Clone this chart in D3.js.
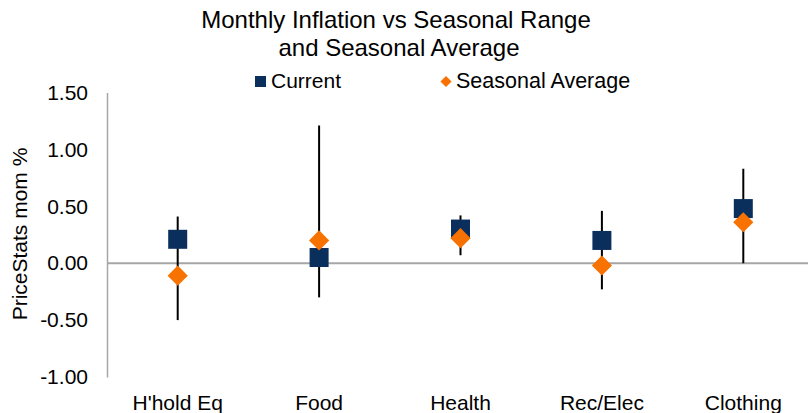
<!DOCTYPE html>
<html>
<head>
<meta charset="utf-8">
<script src="https://cdn.jsdelivr.net/npm/d3@7"></script>
<style>
  body { margin: 0; background: #fff; }
  svg { display: block; font-family: "Liberation Sans", Arial, sans-serif; }
</style>
</head>
<body>
<svg id="chart" width="808" height="413"></svg>
<script>
const categories = ["H'hold Eq", "Food", "Health", "Rec/Elec", "Clothing"];
const rangeHigh = [0.41, 1.21, 0.42, 0.46, 0.83];
const rangeLow = [-0.50, -0.30, 0.07, -0.23, 0.00];
const current = [0.21, 0.05, 0.30, 0.20, 0.48];
const seasonalAvg = [-0.11, 0.20, 0.22, -0.02, 0.36];
const yTicks = [1.5, 1.0, 0.5, 0.0, -0.5, -1.0];

const NAVY = '#0b2f5c';
const ORANGE = '#f77200';
const AXIS_GREY = '#a6a6a6';

const svg = d3.select('#chart');

const x = d3.scaleBand()
    .domain(categories)
    .range([107, 814]);

const y = d3.scaleLinear()
    .domain([-1, 1.5])
    .range([377, 92.5]);

// plain hyphen for negatives, like the source chart
const fmt = d3.formatLocale({decimal: '.', thousands: ',', grouping: [3], currency: ['', ''], minus: '-'}).format('.2f');

// title
svg.append('text')
    .attr('x', 396).attr('y', 28)
    .attr('text-anchor', 'middle')
    .attr('font-size', 24)
    .text('Monthly Inflation vs Seasonal Range');
svg.append('text')
    .attr('x', 399).attr('y', 56)
    .attr('text-anchor', 'middle')
    .attr('font-size', 24)
    .text('and Seasonal Average');

// legend
const legend = svg.append('g');
legend.append('rect')
    .attr('x', 255).attr('y', 76).attr('width', 11).attr('height', 11)
    .attr('fill', NAVY);
legend.append('text')
    .attr('x', 271).attr('y', 88)
    .attr('font-size', 21)
    .text('Current');
legend.append('path')
    .attr('d', d3.symbol(d3.symbolDiamond2, 80)())
    .attr('transform', 'translate(446,81.5)')
    .attr('fill', ORANGE);
legend.append('text')
    .attr('x', 456).attr('y', 88)
    .attr('font-size', 21.5)
    .text('Seasonal Average');

// y axis
const yAxis = svg.append('g')
    .attr('transform', 'translate(107,0)')
    .call(d3.axisLeft(y).tickValues(yTicks).tickFormat(fmt).tickSize(0).tickPadding(19));
yAxis.select('.domain').attr('stroke', AXIS_GREY).attr('stroke-width', 1.5);
yAxis.selectAll('text')
    .attr('font-size', 21)
    .attr('font-family', '"Liberation Sans", Arial, sans-serif')
    .attr('fill', '#000');

svg.append('text')
    .attr('transform', 'translate(27,234) rotate(-90)')
    .attr('text-anchor', 'middle')
    .attr('font-size', 21)
    .text('PriceStats mom %');

// zero line
svg.append('line')
    .attr('x1', 107).attr('x2', 808)
    .attr('y1', y(0)).attr('y2', y(0))
    .attr('stroke', AXIS_GREY)
    .attr('stroke-width', 2);

// category labels
svg.append('g')
    .selectAll('text')
    .data(categories)
    .join('text')
    .attr('x', d => x(d) + x.bandwidth() / 2)
    .attr('y', 410)
    .attr('text-anchor', 'middle')
    .attr('font-size', 21)
    .text(d => d);

const cx = i => x(categories[i]) + x.bandwidth() / 2;

// seasonal range lines
svg.append('g')
    .selectAll('line')
    .data(categories)
    .join('line')
    .attr('x1', (d, i) => cx(i)).attr('x2', (d, i) => cx(i))
    .attr('y1', (d, i) => y(rangeHigh[i]))
    .attr('y2', (d, i) => y(rangeLow[i]))
    .attr('stroke', '#000')
    .attr('stroke-width', 2);

// current squares
const sq = 19;
svg.append('g')
    .selectAll('rect')
    .data(current)
    .join('rect')
    .attr('x', (d, i) => cx(i) - sq / 2)
    .attr('y', d => y(d) - sq / 2)
    .attr('width', sq).attr('height', sq)
    .attr('fill', NAVY);

// seasonal average diamonds
svg.append('g')
    .selectAll('path')
    .data(seasonalAvg)
    .join('path')
    .attr('d', d3.symbol(d3.symbolDiamond2, 260)())
    .attr('transform', (d, i) => `translate(${cx(i)},${y(d)})`)
    .attr('fill', ORANGE);
</script>
</body>
</html>
